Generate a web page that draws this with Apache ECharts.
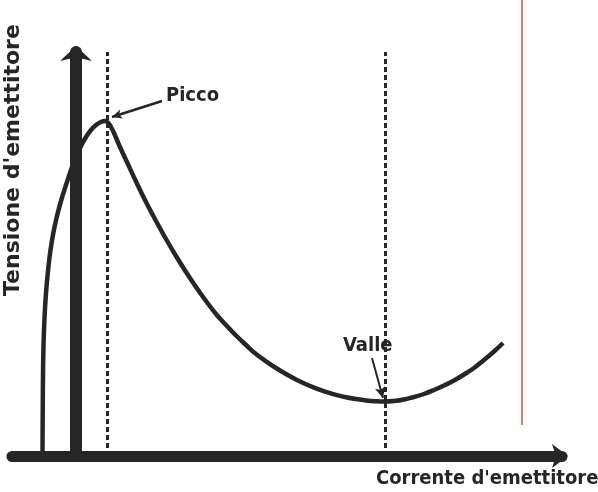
<!DOCTYPE html>
<html>
<head>
<meta charset="utf-8">
<script src="https://cdn.jsdelivr.net/npm/echarts@6/dist/echarts.min.js"></script>
<style>html,body{margin:0;padding:0;background:#fff}#c{width:598px;height:492px}</style>
</head>
<body>
<div id="c"></div>
<script>
// Emitter characteristic (arbitrary units): [current, voltage]
var curvePoints = [[-33.5,2],[-33.3,40],[-33,80],[-32.5,110],[-31.5,138],[-30,163],[-28,185],[-25.5,206],[-22.5,224],[-19,240],[-15,255],[-10,271],[-5,286],[0,299],[5,310],[10,319],[15,326],[20,331],[25,334],[29,335],[32,333.5],[35,329],[38,323],[41,316],[44,309],[50,296],[60,274.5],[70,254],[80,235],[90,217],[100,200],[110,184],[120,169],[130,155],[140,142],[150,131],[160,120.5],[170,111],[180,102],[190,94.7],[200,88],[210,82],[220,76.5],[230,71.7],[240,67.6],[250,64.2],[260,61.2],[270,58.8],[280,57],[290,55.6],[300,54.8],[308,54.5],[318,55],[328,56.5],[338,59],[348,62],[358,66],[368,70.5],[378,75.5],[388,81.5],[398,88],[408,96],[418,104.5],[427,113]];
var peakX = 31;
var valleyX = 309;
var redLine = [[446,31],[446,456]];
var axisNames = ["Corrente d'emettitore", "Tensione d'emettitore"];
var labels = ["Picco", "Valle"];
var picArrow = [[86,355],[36,339]];
var valArrow = [[296,98],[307,58]];

var ink = '#262626';
var chart = echarts.init(document.getElementById('c'));
chart.setOption({
  animation: false,
  grid: {left: 12, right: 36, top: 52, bottom: 36},
  xAxis: {
    type: 'value', min: -64, max: 486,
    axisLine: {show: true, onZero: false, symbol: ['none','arrow'], symbolSize: [18,16], symbolOffset: [0, 6], lineStyle: {color: ink, width: 11}},
    axisTick: {show: false}, axisLabel: {show: false}, splitLine: {show: false}
  },
  yAxis: {
    type: 'value', min: 0, max: 404,
    axisLine: {show: true, onZero: true, symbol: ['none','arrow'], symbolSize: [24,15], symbolOffset: [0, 6], lineStyle: {color: ink, width: 12}},
    axisTick: {show: false}, axisLabel: {show: false}, splitLine: {show: false}
  },
  series: [{
    type: 'line', data: curvePoints, smooth: 0.4, showSymbol: false, clip: false, z: 1,
    lineStyle: {color: ink, width: 4.5},
    markLine: {
      silent: true, symbol: 'none', label: {show: false},
      data: [
        [{coord: [peakX, 0], lineStyle: {color: ink, width: 3, type: [5,3]}}, {coord: [peakX, 404]}],
        [{coord: [valleyX, 0], lineStyle: {color: ink, width: 3, type: [5,3]}}, {coord: [valleyX, 404]}],
        [{coord: picArrow[0], symbol: 'none', lineStyle: {color: ink, width: 2.5, type: 'solid'}}, {coord: picArrow[1], symbol: 'arrow', symbolSize: [7,10]}],
        [{coord: valArrow[0], symbol: 'none', lineStyle: {color: ink, width: 2, type: 'solid'}}, {coord: valArrow[1], symbol: 'arrow', symbolSize: [8,11]}]
      ]
    }
  }, {
    type: 'line', data: redLine, showSymbol: false, clip: false, silent: true, z: 0,
    lineStyle: {color: '#d94c4c', width: 1.5}
  }],
  graphic: [
    {type: 'text', left: 166, top: 86, style: {text: labels[0], fill: ink, font: 'bold 20px "DejaVu Sans Condensed"'}},
    {type: 'text', left: 343, top: 336, style: {text: labels[1], fill: ink, font: 'bold 20px "DejaVu Sans Condensed"'}},
    {type: 'text', left: 376, top: 469, style: {text: axisNames[0], fill: ink, font: 'bold 20px "DejaVu Sans Condensed"'}},
    {type: 'text', x: 2, y: 296, rotation: Math.PI/2, style: {text: axisNames[1], fill: ink, font: 'bold 22px "DejaVu Sans"'}}
  ]
});
</script>
</body>
</html>
